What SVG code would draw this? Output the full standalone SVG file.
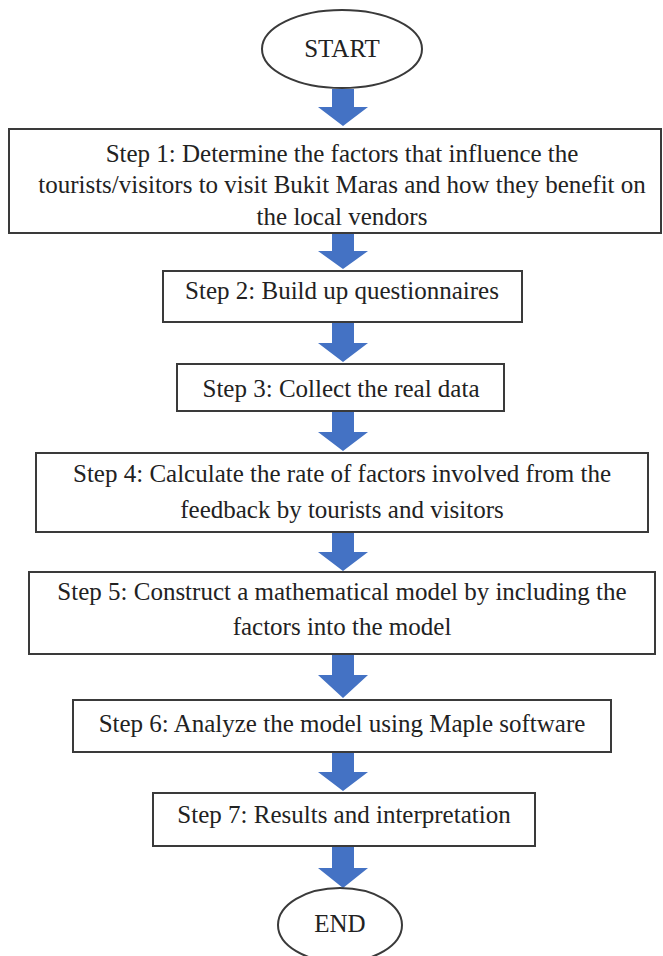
<svg xmlns="http://www.w3.org/2000/svg" width="663" height="956" viewBox="0 0 663 956">
<style>
.box{fill:#fff;stroke:#3a3a3a;stroke-width:2}
.t{font-family:"Liberation Serif","Times New Roman",serif;font-size:25px;fill:#222;text-anchor:middle}
.arr{fill:#4472c4}
</style>
<rect width="663" height="956" fill="#fff"/>
<g id="connectors">
<polygon class="arr" points="332,89 354,89 354,107 368,107 343,126 318,107 332,107"/>
<polygon class="arr" points="332,234 354,234 354,251 368,251 343,269 318,251 332,251"/>
<polygon class="arr" points="332,323 354,323 354,343 368,343 343,362 318,343 332,343"/>
<polygon class="arr" points="332,412 354,412 354,432 368,432 343,451 318,432 332,432"/>
<polygon class="arr" points="332,533 354,533 354,552 368,552 343,571 318,552 332,552"/>
<polygon class="arr" points="332,655 354,655 354,675 368,675 343,698 318,675 332,675"/>
<polygon class="arr" points="332,753 354,753 354,772 368,772 343,791 318,772 332,772"/>
<polygon class="arr" points="332,847 354,847 354,868 368,868 343,888 318,868 332,868"/>
</g>
<g id="start">
<ellipse class="box" cx="342" cy="49" rx="80" ry="39"/>
<text class="t" x="342" y="57">START</text>
</g>
<g id="step1">
<rect class="box" x="9" y="129" width="652" height="104"/>
<text class="t" x="342" y="162">Step 1: Determine the factors that influence the</text>
<text class="t" x="342" y="193">tourists/visitors to visit Bukit Maras and how they benefit on</text>
<text class="t" x="342" y="225">the local vendors</text>
</g>
<g id="step2">
<rect class="box" x="163" y="271" width="359" height="51"/>
<text class="t" x="342" y="299">Step 2: Build up questionnaires</text>
</g>
<g id="step3">
<rect class="box" x="177" y="364" width="327" height="47"/>
<text class="t" x="341" y="397">Step 3: Collect the real data</text>
</g>
<g id="step4">
<rect class="box" x="36" y="453" width="612" height="79"/>
<text class="t" x="342" y="482">Step 4: Calculate the rate of factors involved from the</text>
<text class="t" x="342" y="518">feedback by tourists and visitors</text>
</g>
<g id="step5">
<rect class="box" x="29" y="572" width="626" height="82"/>
<text class="t" x="342" y="600">Step 5: Construct a mathematical model by including the</text>
<text class="t" x="342" y="635">factors into the model</text>
</g>
<g id="step6">
<rect class="box" x="73" y="700" width="538" height="52"/>
<text class="t" x="342" y="732">Step 6: Analyze the model using Maple software</text>
</g>
<g id="step7">
<rect class="box" x="153" y="793" width="382" height="53"/>
<text class="t" x="344" y="823">Step 7: Results and interpretation</text>
</g>
<g id="end">
<ellipse class="box" cx="340" cy="925" rx="62" ry="37"/>
<text class="t" x="340" y="932">END</text>
</g>
</svg>
